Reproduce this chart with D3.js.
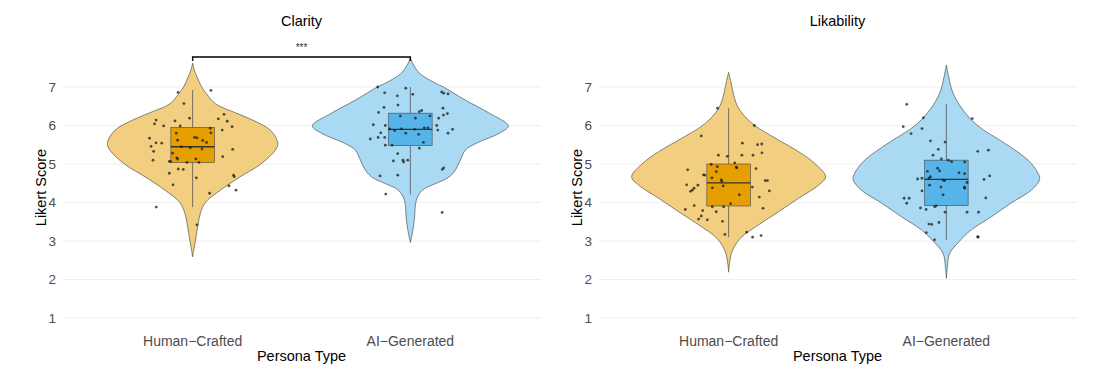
<!DOCTYPE html>
<html><head><meta charset="utf-8">
<script src="https://cdn.jsdelivr.net/npm/d3@7"></script>
<style>body{margin:0;background:#fff} text{font-family:"Liberation Sans",Arial,Helvetica,sans-serif}</style>
</head><body><svg id="c" width="1110" height="381"></svg>
<script>
// ---------- DATA ----------
const panelTitles = ["Clarity", "Likability"];
const categories = ["Human−Crafted", "AI−Generated"];
const yTicks = [1, 2, 3, 4, 5, 6, 7];
const xAxisTitle = "Persona Type";
const yAxisTitle = "Likert Score";
const significanceLabels = ["***", null];
const bracketValue = 7.78;

// violin profiles: [score, relative density width]
const clarityHumanDensity = [[7.62,0],[7.42,0.02],[7.27,0.044],[7.0,0.092],[6.82,0.143],[6.56,0.235],[6.35,0.418],[6.13,0.622],[5.87,0.796],[5.54,0.870],[5.36,0.844],[4.99,0.691],[4.67,0.487],[4.32,0.283],[4.0,0.130],[3.72,0.079],[3.37,0.051],[3.0,0.028],[2.75,0.01],[2.59,0]];
const clarityAIDensity = [[7.75,0],[7.62,0.023],[7.36,0.092],[7.1,0.255],[7.0,0.337],[6.66,0.561],[6.32,0.806],[5.99,1.0],[5.8,0.908],[5.54,0.673],[5.36,0.561],[5.1,0.510],[4.84,0.459],[4.65,0.388],[4.5,0.265],[4.32,0.122],[4.06,0.061],[3.55,0.041],[3.2,0.02],[2.96,0]];
const likabilityHumanDensity = [[7.38,0],[7.14,0.023],[6.88,0.044],[6.53,0.085],[6.27,0.153],[5.99,0.272],[5.67,0.477],[5.32,0.714],[5.0,0.885],[4.67,0.99],[4.45,0.918],[4.11,0.714],[3.76,0.510],[3.42,0.306],[3.07,0.119],[2.72,0.034],[2.38,0.007],[2.19,0]];
const likabilityAIDensity = [[7.57,0],[7.27,0.023],[6.84,0.068],[6.40,0.170],[5.99,0.323],[5.54,0.595],[5.10,0.834],[4.76,0.936],[4.60,0.952],[4.32,0.867],[3.99,0.663],[3.63,0.459],[3.29,0.255],[3.0,0.136],[2.68,0.034],[2.33,0.010],[2.03,0]];

// boxplot stats: [lower whisker, Q1, median, Q3, upper whisker]
const clarityHumanBox = [3.88, 5.04, 5.45, 5.95, 6.92];
const clarityAIBox = [4.21, 5.48, 5.90, 6.32, 7.0];
const likabilityHumanBox = [3.10, 3.91, 4.51, 5.0, 6.45];
const likabilityAIBox = [3.03, 3.92, 4.60, 5.10, 6.55];

// jittered points: [horizontal jitter (category units), score]
const clarityHumanPoints = [[-0.067,6.86],[0.084,6.91],[-0.040,6.57],[-0.014,6.19],[0.144,6.29],[0.118,6.17],[0.159,6.11],[-0.168,6.14],[-0.175,6.04],[-0.133,5.99],[-0.081,6.12],[-0.057,5.99],[0.181,5.97],[0.136,5.88],[0.081,5.93],[-0.075,5.80],[0.084,5.81],[-0.198,5.67],[-0.168,5.55],[-0.142,5.54],[-0.191,5.46],[-0.069,5.62],[0.009,5.69],[0.020,5.68],[0.046,5.61],[0.064,5.56],[-0.052,5.45],[-0.011,5.42],[0.043,5.39],[-0.179,5.33],[-0.092,5.28],[0.184,5.38],[-0.182,5.10],[-0.073,5.16],[-0.069,5.13],[0.015,5.13],[-0.107,5.07],[-0.101,5.06],[-0.026,5.04],[0.029,5.04],[0.138,5.19],[-0.066,4.87],[-0.043,4.86],[-0.107,4.76],[0.017,4.64],[0.188,4.71],[0.191,4.67],[-0.090,4.46],[0.167,4.43],[0.199,4.32],[0.078,4.24],[-0.167,3.88],[0.020,3.42]];
const clarityAIPoints = [[-0.150,7.00],[-0.021,6.97],[-0.118,6.85],[0.011,6.81],[-0.060,6.77],[0.144,6.87],[0.153,6.84],[0.173,6.82],[-0.057,6.53],[-0.121,6.47],[0.150,6.45],[-0.146,6.34],[0.041,6.36],[0.052,6.39],[0.170,6.31],[0.152,6.27],[0.130,6.19],[-0.046,6.25],[0.023,6.19],[0.090,6.25],[-0.170,6.02],[-0.115,6.00],[0.121,6.00],[-0.136,5.81],[-0.095,5.91],[-0.072,5.87],[-0.041,5.91],[0.020,5.90],[0.064,5.94],[0.081,5.94],[0.126,5.88],[0.194,5.90],[0.173,5.80],[-0.184,5.65],[-0.148,5.69],[-0.118,5.69],[-0.021,5.80],[0.038,5.77],[0.060,5.56],[-0.115,5.49],[-0.084,5.49],[0.041,5.41],[-0.058,5.27],[-0.078,5.08],[-0.034,5.10],[-0.031,5.05],[-0.012,5.10],[0.153,4.90],[0.147,4.86],[-0.139,4.69],[-0.058,4.71],[-0.113,4.22],[0.146,3.74]];
const likabilityHumanPoints = [[-0.051,6.45],[0.118,6.00],[-0.126,5.73],[0.063,5.54],[0.133,5.50],[0.152,5.52],[0.153,5.29],[-0.047,5.23],[-0.006,5.20],[0.061,5.23],[0.112,5.23],[0.028,5.03],[-0.080,4.99],[-0.052,4.93],[0.035,4.92],[0.037,4.90],[0.126,4.88],[-0.188,4.85],[-0.057,4.80],[-0.115,4.72],[-0.110,4.71],[-0.077,4.64],[-0.034,4.59],[-0.031,4.55],[0.168,4.57],[0.178,4.57],[-0.193,4.46],[-0.141,4.45],[-0.159,4.37],[-0.167,4.32],[-0.175,4.29],[-0.075,4.38],[-0.025,4.43],[0.109,4.40],[0.187,4.30],[0.049,4.20],[0.141,4.14],[0.009,3.97],[-0.158,3.92],[-0.199,3.82],[-0.119,3.79],[-0.057,3.76],[0.158,3.85],[-0.126,3.65],[-0.138,3.57],[-0.098,3.55],[-0.028,3.51],[-0.017,3.17],[0.083,3.23],[0.110,3.10],[0.149,3.14],[-0.075,3.89],[-0.023,3.89]];
const likabilityAIPoints = [[-0.182,6.55],[0.119,6.18],[-0.106,6.20],[-0.198,5.97],[-0.162,5.79],[-0.112,5.92],[-0.073,5.60],[-0.006,5.57],[-0.037,5.38],[0.144,5.33],[0.193,5.36],[-0.061,5.23],[-0.023,5.13],[0.009,5.10],[0.024,5.06],[0.084,5.05],[-0.040,4.89],[-0.031,4.82],[0.058,4.77],[0.084,4.75],[-0.087,4.81],[-0.073,4.67],[-0.080,4.63],[-0.132,4.61],[-0.112,4.63],[-0.014,4.58],[-0.008,4.57],[0.173,4.60],[0.199,4.69],[0.095,4.52],[-0.077,4.45],[-0.025,4.40],[0.083,4.40],[0.084,4.37],[-0.112,4.30],[-0.015,4.20],[-0.194,4.11],[-0.171,4.11],[-0.182,3.98],[0.181,4.12],[-0.119,3.86],[-0.093,3.82],[-0.054,3.89],[-0.047,3.91],[-0.006,3.75],[0.095,3.75],[0.148,3.75],[-0.080,3.44],[-0.067,3.43],[-0.034,3.48],[-0.092,3.22],[-0.054,3.03],[0.144,3.11],[0.146,3.10]];

const violinFills = ["#F2CF80", "#AAD9F4"];
const boxFills = ["#E69F00", "#56B4E9"];

// ---------- BUILD ----------
const panels = [
  { title: panelTitles[0], sig: significanceLabels[0],
    groups: [
      { cat: categories[0], density: clarityHumanDensity, box: clarityHumanBox, points: clarityHumanPoints },
      { cat: categories[1], density: clarityAIDensity, box: clarityAIBox, points: clarityAIPoints } ] },
  { title: panelTitles[1], sig: significanceLabels[1],
    groups: [
      { cat: categories[0], density: likabilityHumanDensity, box: likabilityHumanBox, points: likabilityHumanPoints },
      { cat: categories[1], density: likabilityAIDensity, box: likabilityAIBox, points: likabilityAIPoints } ] }
];

const svg = d3.select("#c");
const panelRanges = [[62, 541], [598, 1077]];
const y = d3.scaleLinear().domain([1, 7]).range([318, 87]);

panels.forEach((p, pi) => {
  const [x0, x1] = panelRanges[pi];
  const x = d3.scalePoint().domain(categories).range([x0, x1]).padding(0.6);
  const step = x.step();
  const g = svg.append("g");

  // grid
  g.selectAll("line.grid").data(yTicks).join("line")
    .attr("x1", x0).attr("x2", x1)
    .attr("y1", d => y(d)).attr("y2", d => y(d))
    .attr("stroke", "#EBEBEB").attr("stroke-width", 0.8);

  // y tick labels
  g.selectAll("text.yt").data(yTicks).join("text")
    .attr("x", x0 - 6).attr("y", d => y(d)).attr("dy", "0.35em")
    .attr("text-anchor", "end").attr("font-size", 13.5).attr("fill", "#4D4D4D")
    .text(d => d);

  // x tick labels
  g.selectAll("text.xt").data(categories).join("text")
    .attr("x", d => x(d)).attr("y", 346)
    .attr("text-anchor", "middle").attr("font-size", 14).attr("fill", "#4D4D4D")
    .text(d => d);

  // titles
  g.append("text").attr("x", (x0 + x1) / 2).attr("y", 26).attr("text-anchor", "middle")
    .attr("font-size", 14.5).attr("fill", "#000").text(p.title);
  g.append("text").attr("x", (x0 + x1) / 2).attr("y", 361).attr("text-anchor", "middle")
    .attr("font-size", 14.5).attr("fill", "#000").text(xAxisTitle);
  g.append("text").attr("transform", `translate(${x0 - 16},${(y(1) + y(7)) / 2 - 15}) rotate(-90)`)
    .attr("text-anchor", "middle").attr("font-size", 14.5).attr("fill", "#000").text(yAxisTitle);

  p.groups.forEach((gr, gi) => {
    const cx = x(gr.cat);
    const halfMax = 0.45 * step;
    const area = d3.area()
      .y(d => y(d[0]))
      .x0(d => cx - d[1] * halfMax)
      .x1(d => cx + d[1] * halfMax)
      .curve(d3.curveCatmullRom);
    g.append("path").datum(gr.density).attr("d", area)
      .attr("fill", violinFills[gi]).attr("stroke", "#3a3a3a").attr("stroke-width", 0.6);

    const [lw, q1, med, q3, uw] = gr.box;
    const bw = 0.1 * step;
    g.append("line").attr("x1", cx).attr("x2", cx).attr("y1", y(uw)).attr("y2", y(q3))
      .attr("stroke", "#555").attr("stroke-width", 0.8);
    g.append("line").attr("x1", cx).attr("x2", cx).attr("y1", y(q1)).attr("y2", y(lw))
      .attr("stroke", "#555").attr("stroke-width", 0.8);
    g.append("rect").attr("x", cx - bw).attr("width", 2 * bw)
      .attr("y", y(q3)).attr("height", y(q1) - y(q3))
      .attr("fill", boxFills[gi]).attr("stroke", "#444").attr("stroke-width", 0.6);
    g.append("line").attr("x1", cx - bw).attr("x2", cx + bw).attr("y1", y(med)).attr("y2", y(med))
      .attr("stroke", "#333").attr("stroke-width", 1.4);

    g.selectAll(null).data(gr.points).join("circle")
      .attr("cx", d => cx + d[0] * step).attr("cy", d => y(d[1])).attr("r", 1.4)
      .attr("fill", "#1a1a1a").attr("fill-opacity", 0.75);
  });

  if (p.sig) {
    const a = x(categories[0]), b = x(categories[1]);
    const by = y(bracketValue);
    g.append("path").attr("d", `M${a},${by + 4}V${by}H${b}V${by + 4}`)
      .attr("fill", "none").attr("stroke", "#000").attr("stroke-width", 1.4);
    g.append("text").attr("x", (a + b) / 2).attr("y", by - 6).attr("text-anchor", "middle")
      .attr("font-size", 10).attr("fill", "#333").text(p.sig);
  }
});
</script></body></html>
